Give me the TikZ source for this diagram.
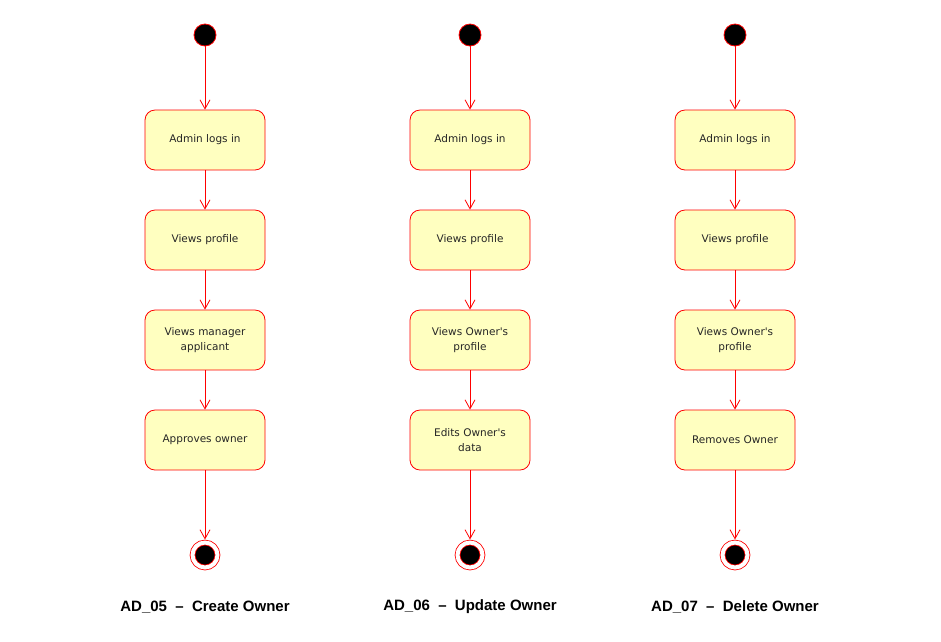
\documentclass[tikz,border=0pt]{standalone}
\usepackage{fontspec}
\setmainfont{DejaVu Sans}
\newfontfamily\titlefont{Liberation Sans}
\usetikzlibrary{positioning, arrows.meta}
\definecolor{actfill}{HTML}{FFFFC0}

\begin{document}
\begin{tikzpicture}[x=1pt,y=-1pt,node distance=100pt,on grid,line width=0.8pt,
    act/.style={rectangle,rounded corners=10pt,draw=red,fill=actfill,minimum width=120pt,
        minimum height=60pt,align=center,text=black!85,font=\fontsize{10.5}{15}\selectfont},
    initial/.style={circle,draw=red,fill=black,minimum size=22pt,inner sep=0pt},
    final/.style={circle,draw=red,fill=black,minimum size=25pt,inner sep=0pt,
        double=white,double distance=4pt,outer sep=3pt},
    title/.style={font=\titlefont\bfseries\fontsize{15}{17}\selectfont},
    flow/.style={draw=red,-{Straight Barb[length=9pt,width=10pt]}}]
    \useasboundingbox (0,0) rectangle (941,641);

    % AD_05
    \node[initial] (s_5) at (205,35) {};
    \node[act, below=105pt of s_5] (login_5) {Admin logs in};
    \node[act, below=of login_5] (profile_5) {Views profile};
    \node[act, below=of profile_5] (manager_5) {Views manager\\applicant};
    \node[act, below=of manager_5] (approve_5) {Approves owner};
    \node[final, below=115pt of approve_5] (e_5) {};
    \node[title, below=52pt of e_5] (t_5) {AD\_05 \ –\ \ Create Owner};

    % AD_06
    \node[initial] (s_6) at (470,35) {};
    \node[act, below=105pt of s_6] (login_6) {Admin logs in};
    \node[act, below=of login_6] (profile_6) {Views profile};
    \node[act, below=of profile_6] (owner_6) {Views Owner\textquotesingle s\\profile};
    \node[act, below=of owner_6] (edit_6) {Edits Owner\textquotesingle s\\data};
    \node[final, below=115pt of edit_6] (e_6) {};
    \node[title, below=52pt of e_6] (t_6) {AD\_06 \ –\ \ Update Owner};

    % AD_07
    \node[initial] (s_7) at (735,35) {};
    \node[act, below=105pt of s_7] (login_7) {Admin logs in};
    \node[act, below=of login_7] (profile_7) {Views profile};
    \node[act, below=of profile_7] (owner_7) {Views Owner\textquotesingle s\\profile};
    \node[act, below=of owner_7] (remove_7) {Removes Owner};
    \node[final, below=115pt of remove_7] (e_7) {};
    \node[title, below=52pt of e_7] (t_7) {AD\_07 \ –\ \ Delete Owner};

    \path[flow]
        (s_5) edge (login_5) (login_5) edge (profile_5) (profile_5) edge (manager_5)
        (manager_5) edge (approve_5) (approve_5) edge (e_5)
        (s_6) edge (login_6) (login_6) edge (profile_6) (profile_6) edge (owner_6)
        (owner_6) edge (edit_6) (edit_6) edge (e_6)
        (s_7) edge (login_7) (login_7) edge (profile_7) (profile_7) edge (owner_7)
        (owner_7) edge (remove_7) (remove_7) edge (e_7);
\end{tikzpicture}
\end{document}
